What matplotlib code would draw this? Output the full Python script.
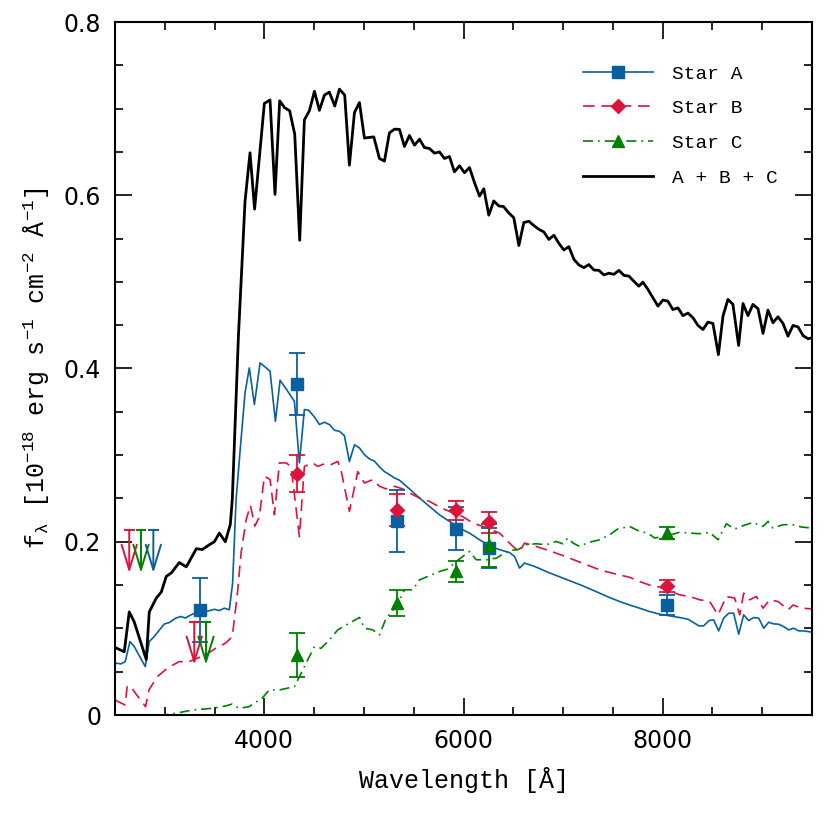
import matplotlib
matplotlib.use('Agg')
import matplotlib.pyplot as plt
from matplotlib.lines import Line2D
from matplotlib.ticker import MultipleLocator

# 光谱数据 (波长 Å, 流量 1e-18 erg/s/cm2/Å)
wl_total = [2500, 2593, 2643, 2693, 2814, 2844, 2915, 2965, 3015, 3065, 3146, 3216, 3317, 3377,
            3447, 3498, 3548, 3608, 3658, 3678, 3739, 3806, 3856, 3902, 4000, 4057, 4107, 4154,
            4204, 4254, 4305, 4355, 4402, 4452, 4503, 4553, 4603, 4653, 4707, 4754, 4807, 4854,
            4905, 4955, 5005, 5099, 5156, 5206, 5256, 5307, 5357, 5407, 5457, 5508, 5558, 5608,
            5658, 5709, 5759, 5809, 5859, 5909, 5960, 6010, 6060, 6110, 6161, 6204, 6254, 6304,
            6355, 6402, 6452, 6505, 6556, 6606, 6656, 6707, 6757, 6807, 6857, 6908, 6958, 7008,
            7058, 7109, 7159, 7209, 7259, 7309, 7360, 7410, 7460, 7510, 7561, 7611, 7661, 7711,
            7761, 7802, 7852, 7902, 7953, 8003, 8053, 8103, 8154, 8204, 8254, 8304, 8355, 8405,
            8455, 8505, 8560, 8606, 8656, 8706, 8763, 8807, 8857, 8907, 8958, 9008, 9058, 9108,
            9158, 9209, 9259, 9309, 9360, 9410, 9460, 9500]
flux_total = [0.078, 0.073, 0.119, 0.1075, 0.064, 0.119, 0.135, 0.142, 0.160, 0.164, 0.176, 0.171,
              0.192, 0.191, 0.1965, 0.200, 0.210, 0.200, 0.220, 0.249, 0.436, 0.593, 0.649, 0.584,
              0.706, 0.710, 0.601, 0.709, 0.701, 0.6975, 0.6705, 0.548, 0.687, 0.6975, 0.720, 0.698,
              0.7156, 0.719, 0.703, 0.7225, 0.7156, 0.6347, 0.6956, 0.707, 0.666, 0.6674, 0.6424,
              0.6394, 0.672, 0.6763, 0.676, 0.6563, 0.669, 0.6578, 0.6647, 0.655, 0.654, 0.6486,
              0.650, 0.6424, 0.6447, 0.627, 0.634, 0.626, 0.632, 0.6147, 0.599, 0.6075, 0.577,
              0.5934, 0.5876, 0.587, 0.580, 0.574, 0.542, 0.5685, 0.570, 0.565, 0.5607, 0.5576,
              0.549, 0.5538, 0.5445, 0.5368, 0.5407, 0.526, 0.5195, 0.5164, 0.520, 0.5137, 0.5133,
              0.508, 0.510, 0.5087, 0.5133, 0.5075, 0.5067, 0.5007, 0.495, 0.4997, 0.4913, 0.4817,
              0.472, 0.479, 0.4777, 0.468, 0.470, 0.461, 0.464, 0.4586, 0.4497, 0.445, 0.4535,
              0.452, 0.416, 0.4605, 0.4798, 0.474, 0.4266, 0.475, 0.461, 0.474, 0.469, 0.4405,
              0.4674, 0.4528, 0.4597, 0.452, 0.4373, 0.4497, 0.448, 0.438, 0.4343, 0.4355]

wl_a = [2500, 2560, 2603, 2650, 2693, 2804, 2844, 2894, 2945, 2995, 3045, 3113, 3163, 3206, 3263,
        3314, 3414, 3498, 3548, 3598, 3648, 3681, 3716, 3760, 3806, 3849, 3900, 3957, 4057, 4111,
        4158, 4211, 4268, 4302, 4352, 4402, 4445, 4503, 4553, 4603, 4653, 4704, 4754, 4804, 4854,
        4905, 4955, 5005, 5055, 5106, 5156, 5206, 5256, 5307, 5357, 5407, 5457, 5558, 5658, 5759,
        5859, 5960, 6060, 6161, 6261, 6362, 6462, 6513, 6563, 6613, 6714, 6864, 7000, 7200, 7367,
        7467, 7568, 7668, 7769, 7869, 7970, 8070, 8171, 8254, 8311, 8365, 8412, 8465, 8512, 8563,
        8613, 8663, 8713, 8764, 8814, 8864, 8914, 8965, 9015, 9065, 9115, 9166, 9216, 9266, 9316,
        9367, 9417, 9500]
flux_a = [0.060, 0.059, 0.0617, 0.0848, 0.079, 0.0559, 0.0848, 0.0905, 0.098, 0.105, 0.1067, 0.112,
          0.1137, 0.112, 0.1156, 0.118, 0.1194, 0.122, 0.1206, 0.1233, 0.1214, 0.152, 0.2486, 0.31,
          0.372, 0.4007, 0.3584, 0.4065, 0.397, 0.339, 0.3865, 0.3777, 0.368, 0.362, 0.291, 0.3526,
          0.3518, 0.344, 0.3353, 0.338, 0.3353, 0.3287, 0.3275, 0.3225, 0.2925, 0.312, 0.3083,
          0.3006, 0.2956, 0.293, 0.2864, 0.281, 0.2775, 0.2737, 0.271, 0.266, 0.261, 0.2505, 0.2408,
          0.231, 0.2235, 0.2158, 0.210, 0.2023, 0.1954, 0.1908, 0.1876, 0.183, 0.1696, 0.1754,
          0.1715, 0.164, 0.158, 0.149, 0.1407, 0.1356, 0.131, 0.127, 0.1233, 0.1194, 0.1164, 0.1145,
          0.1125, 0.1106, 0.1067, 0.1029, 0.1029, 0.109, 0.1098, 0.0971, 0.1118, 0.1175, 0.1175,
          0.0933, 0.1156, 0.109, 0.1125, 0.1118, 0.1002, 0.1071, 0.1052, 0.1048, 0.102, 0.0983,
          0.1002, 0.0971, 0.0971, 0.0956]

wl_b = [2500, 2600, 2623, 2656, 2706, 2807, 2841, 2925, 3025, 3143, 3243, 3410, 3511, 3611, 3678,
        3729, 3766, 3816, 3860, 3905, 3950, 4000, 4057, 4101, 4151, 4218, 4268, 4352, 4402, 4485,
        4535, 4603, 4670, 4737, 4770, 4854, 4938, 5005, 5088, 5156, 5223, 5307, 5390, 5457, 5558,
        5658, 5776, 5859, 5993, 6093, 6194, 6362, 6429, 6496, 6563, 6613, 6731, 6831, 7000, 7200,
        7367, 7518, 7668, 7769, 7869, 7970, 8171, 8271, 8372, 8472, 8556, 8640, 8723, 8774, 8814,
        8874, 8941, 9008, 9075, 9159, 9260, 9310, 9394, 9500]
flux_b = [0.0173, 0.0116, 0.033, 0.0335, 0.025, 0.0096, 0.029, 0.0443, 0.054, 0.0616, 0.0616,
          0.0694, 0.077, 0.083, 0.0905, 0.14, 0.187, 0.225, 0.242, 0.218, 0.229, 0.2755, 0.272,
          0.2312, 0.291, 0.291, 0.287, 0.206, 0.287, 0.291, 0.287, 0.290, 0.289, 0.2928, 0.283,
          0.235, 0.281, 0.2678, 0.2717, 0.264, 0.261, 0.264, 0.261, 0.2563, 0.2505, 0.2466, 0.239,
          0.235, 0.229, 0.2216, 0.2177, 0.210, 0.2023, 0.1946, 0.1888, 0.1985, 0.1946, 0.1908,
          0.184, 0.175, 0.1676, 0.163, 0.159, 0.154, 0.150, 0.1476, 0.1387, 0.1368, 0.133, 0.131,
          0.1156, 0.1368, 0.135, 0.1156, 0.1407, 0.133, 0.1368, 0.1233, 0.133, 0.131, 0.1214,
          0.127, 0.1233, 0.1225]

wl_c = [2500, 2700, 2900, 3000, 3143, 3277, 3478, 3611, 3678, 3745, 3846, 3980, 4050, 4151, 4302,
        4369, 4435, 4503, 4570, 4653, 4737, 4854, 4955, 5005, 5088, 5156, 5223, 5324, 5407, 5490,
        5558, 5658, 5759, 5842, 5927, 6060, 6128, 6228, 6328, 6462, 6546, 6628, 6731, 6831, 6931,
        6998, 7048, 7099, 7166, 7250, 7367, 7467, 7548, 7668, 7769, 7850, 7920, 8050, 8171, 8271,
        8372, 8472, 8556, 8640, 8723, 8806, 8907, 9008, 9058, 9108, 9209, 9310, 9394, 9500]
flux_c = [0.0, 0.0, 0.0, 0.0, 0.0027, 0.0058, 0.0077, 0.0104, 0.0127, 0.0077, 0.0096, 0.0197,
          0.029, 0.0289, 0.0327, 0.048, 0.0636, 0.079, 0.077, 0.0867, 0.0983, 0.106, 0.1126,
          0.1002, 0.0983, 0.0925, 0.1118, 0.1252, 0.1445, 0.1445, 0.156, 0.1607, 0.1657, 0.1684,
          0.1773, 0.1888, 0.1792, 0.1792, 0.181, 0.19, 0.1908, 0.1965, 0.1977, 0.1965, 0.2003,
          0.1977, 0.2043, 0.1985, 0.1946, 0.199, 0.2023, 0.208, 0.2147, 0.2177, 0.212, 0.21,
          0.2043, 0.207, 0.211, 0.21, 0.2093, 0.2108, 0.2023, 0.2208, 0.2147, 0.2185, 0.2223,
          0.2177, 0.2235, 0.2158, 0.2197, 0.2197, 0.217, 0.2158]

# 测光点
phot_x = [3357, 4330, 5333, 5925, 6254, 8047]
a_y = [0.1214, 0.382, 0.2243, 0.215, 0.193, 0.127]
a_err = [0.0366, 0.036, 0.036, 0.025, 0.023, 0.011]
b_x = [4330, 5333, 5925, 6254, 8047]
b_y = [0.2786, 0.2366, 0.2366, 0.2223, 0.149]
b_err = [0.021, 0.018, 0.011, 0.012, 0.0065]
c_x = [4330, 5333, 5925, 6254, 8047]
c_y = [0.0694, 0.1298, 0.1657, 0.196, 0.21]
c_err = [0.025, 0.015, 0.012, 0.025, 0.007]

# 上限 (箭头)
lim_x = [2643, 2761, 2885, 3296, 3414]
lim_y = [0.2139, 0.2139, 0.2139, 0.1079, 0.1079]
lim_star = ['B', 'C', 'A', 'B', 'C']

colors = {'A': '#0a5fa0', 'B': '#dc143c', 'C': '#008000'}
labels = ['Star A', 'Star B', 'Star C', 'A + B + C']

plt.rcParams['mathtext.default'] = 'regular'
mono = 'Liberation Mono'

fig = plt.figure(figsize=(8.3, 8.3), dpi=100)
ax = fig.add_axes([115 / 830, 115 / 830, 697 / 830, 693 / 830])

ax.plot(wl_a, flux_a, color=colors['A'], lw=1.2)
ax.plot(wl_b, flux_b, color=colors['B'], lw=1.2, dashes=(7, 4))
ax.plot(wl_c, flux_c, color=colors['C'], lw=1.2, dashes=(6, 3, 1, 3))
ax.plot(wl_total, flux_total, color='black', lw=2.0)

ekw = dict(linestyle='none', capsize=6, elinewidth=1.3, capthick=1.3)
ax.errorbar(phot_x, a_y, yerr=a_err, marker='s', ms=8, color=colors['A'], **ekw)
ax.errorbar(b_x, b_y, yerr=b_err, marker='D', ms=7.5, color=colors['B'], **ekw)
ax.errorbar(c_x, c_y, yerr=c_err, marker='^', ms=9, color=colors['C'], **ekw)

# 上限箭头
for x, y, s in zip(lim_x, lim_y, lim_star):
    c = colors[s]
    ax.hlines(y, x - 55, x + 55, color=c, lw=1.4)
    ax.annotate('', xy=(x, y - 0.05), xytext=(x, y),
                arrowprops=dict(arrowstyle='->,head_length=1.8,head_width=0.55',
                                color=c, lw=1.4, mutation_scale=10, shrinkA=0, shrinkB=0))

ax.set_xlim(2500, 9500)
ax.set_ylim(0, 0.8)
ax.xaxis.set_major_locator(MultipleLocator(2000))
ax.xaxis.set_minor_locator(MultipleLocator(500))
ax.yaxis.set_major_locator(MultipleLocator(0.2))
ax.yaxis.set_minor_locator(MultipleLocator(0.05))
ax.yaxis.set_major_formatter(plt.FuncFormatter(lambda v, p: '0' if v == 0 else f'{v:.1f}'))
ax.tick_params(which='both', direction='in', top=True, right=True, labelsize=17)
ax.tick_params(which='major', length=12, width=1.2, pad=10)
ax.tick_params(which='minor', length=6, width=1.2)
for sp in ax.spines.values():
    sp.set_linewidth(1.5)

ax.set_xlabel('Wavelength [Å]', fontsize=18, family=mono, labelpad=10)
ax.set_ylabel(r'f$_\lambda$ [10$^{-18}$ erg s$^{-1}$ cm$^{-2}$ Å$^{-1}$]',
              fontsize=18, family=mono, labelpad=8)

handles = [Line2D([], [], color=colors['A'], lw=1.2, marker='s', ms=8),
           Line2D([], [], color=colors['B'], lw=1.2, dashes=(7, 4), marker='D', ms=7.5),
           Line2D([], [], color=colors['C'], lw=1.2, dashes=(6, 3, 1, 3), marker='^', ms=9),
           Line2D([], [], color='black', lw=2.0)]
ax.legend(handles, labels, loc='upper left', bbox_to_anchor=(0.671, 0.938), frameon=False,
          borderpad=0, borderaxespad=0, handlelength=3.6, handletextpad=1.0,
          labelspacing=0.88, prop={'family': mono, 'size': 14})

fig.savefig('out.png', dpi=100)
